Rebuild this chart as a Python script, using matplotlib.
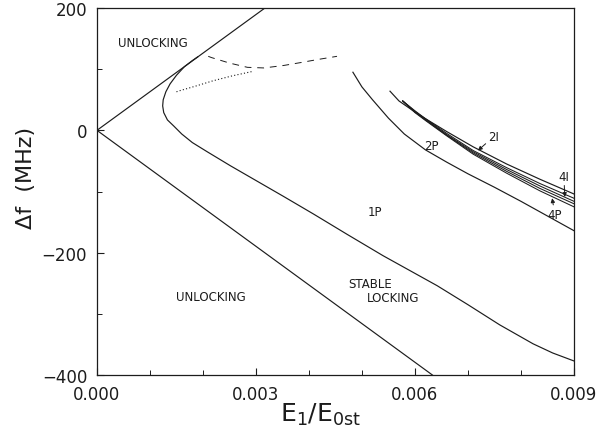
import matplotlib
matplotlib.use("Agg")
import matplotlib.pyplot as plt
from matplotlib.ticker import MultipleLocator, FixedLocator, FuncFormatter

# ---------------- data ----------------
upper_line_x = [0.0, 0.00317]
upper_line_y = [0.0, 200.0]
lower_line_x = [0.0, 0.00633]
lower_line_y = [0.0, -400.0]

# 1P boundary (C-shaped curve)
c_x = [0.00190, 0.00180, 0.00165, 0.00150, 0.00138, 0.00130, 0.00125, 0.00124,
       0.00126, 0.00133, 0.00145, 0.00160, 0.00180, 0.00208, 0.00252, 0.00302,
       0.00352, 0.00409, 0.00472, 0.00540, 0.00642, 0.00700, 0.00760, 0.00823,
       0.00860, 0.00900]
c_y = [120, 114, 104, 90, 76, 63, 50, 40, 29, 17, 7, -6, -20, -35, -58, -83,
       -108, -137, -170, -205, -254, -285, -318, -349, -364, -377]

# dashed curve
dash_x = [0.00210, 0.00216, 0.00250, 0.00284, 0.00315, 0.00352, 0.00386, 0.00418, 0.00453]
dash_y = [121, 119, 110, 103, 102, 106, 111, 116, 121]

# dotted curve
dot_x = [0.00150, 0.00157, 0.00185, 0.00219, 0.00255, 0.00292]
dot_y = [63, 65, 72, 81, 89, 96]

# 2P curve
p2_x = [0.00483, 0.00500, 0.00520, 0.00550, 0.00580, 0.00620, 0.00660, 0.00700,
        0.00750, 0.00800, 0.00850, 0.00900]
p2_y = [95, 71, 50, 20, -6, -32, -52, -71, -93, -116, -140, -164]

# 2I curve (top of the group)
i2_x = [0.00553, 0.00570, 0.00600, 0.00620, 0.00660, 0.00710, 0.00773, 0.00836, 0.00900]
i2_y = [64, 48, 30, 19, -2, -27, -55, -80, -104]

# bundle of higher-order curves
bundle_x = [0.00577, 0.00600, 0.00620, 0.00660, 0.00710, 0.00773, 0.00836, 0.00900]
bundle_y1 = [48, 32, 19, -5, -33, -61, -87, -111]
bundle_y2 = [48, 31, 18, -7, -35, -64, -91, -116]
bundle_y3 = [48, 30, 17, -8, -37, -67, -95, -120]
bundle_y4 = [48, 29, 16, -9, -39, -70, -99, -125]

x_ticks = [0.000, 0.003, 0.006, 0.009]
y_ticks = [-400, -200, 0, 200]

# ---------------- figure ----------------
plt.rcParams['font.family'] = ['DejaVu Sans']
fig = plt.figure(figsize=(6.06, 4.39), dpi=100)
ax = fig.add_axes([0.160, 0.1435, 0.787, 0.836])

lc = '#1c1c1c'
lw = 0.85
ax.plot(upper_line_x, upper_line_y, color=lc, lw=lw)
ax.plot(lower_line_x, lower_line_y, color=lc, lw=lw)
ax.plot(c_x, c_y, color=lc, lw=lw)
ax.plot(dash_x, dash_y, color=lc, lw=0.7, dashes=(7, 6))
ax.plot(dot_x, dot_y, color=lc, lw=0.8, dashes=(1, 2))
ax.plot(p2_x, p2_y, color=lc, lw=lw)
ax.plot(i2_x, i2_y, color=lc, lw=lw)
for by in (bundle_y1, bundle_y2, bundle_y3, bundle_y4):
    ax.plot(bundle_x, by, color=lc, lw=0.75)

ax.set_xlim(0, 0.009)
ax.set_ylim(-400, 200)

ax.xaxis.set_major_locator(FixedLocator(x_ticks))
ax.xaxis.set_minor_locator(MultipleLocator(0.001))
ax.yaxis.set_major_locator(FixedLocator(y_ticks))
ax.yaxis.set_minor_locator(MultipleLocator(100))
ax.xaxis.set_major_formatter(FuncFormatter(lambda v, p: f"{v:.3f}"))
ax.yaxis.set_major_formatter(FuncFormatter(lambda v, p: f"{int(round(v))}".replace('-', '\u2212')))

ax.tick_params(which='major', direction='in', length=5, width=0.8, labelsize=12,
               pad=7, colors=lc, top=False, right=False)
ax.tick_params(which='minor', direction='in', length=3.5, width=0.7, top=False, right=False, colors=lc)
for s in ax.spines.values():
    s.set_linewidth(0.9)
    s.set_color(lc)

ax.set_xlabel(r'$\mathregular{E_1/E_{0st}}$', fontsize=18, color=lc)
ax.xaxis.set_label_coords(0.468, -0.070)
ax.set_ylabel('\u0394f  (MHz)', fontsize=16, color=lc)
ax.yaxis.set_label_coords(-0.128, 0.54)

tc = '#1c1c1c'
fs = 8.5
ax.text(0.00106, 143, 'UNLOCKING', fontsize=fs, color=tc, ha='center', va='center')
ax.text(0.00215, -272, 'UNLOCKING', fontsize=fs, color=tc, ha='center', va='center')
ax.text(0.00474, -251, 'STABLE', fontsize=fs, color=tc, ha='left', va='center')
ax.text(0.00509, -274, 'LOCKING', fontsize=fs, color=tc, ha='left', va='center')
ax.text(0.00525, -133, '1P', fontsize=fs, color=tc, ha='center', va='center')
ax.text(0.00632, -24, '2P', fontsize=fs, color=tc, ha='center', va='center')

ap = dict(arrowstyle='-|>', color=tc, lw=0.7, mutation_scale=6, shrinkA=0, shrinkB=0)
ax.annotate('2I', xy=(0.00719, -33), xytext=(0.00749, -10), fontsize=fs, color=tc,
            ha='center', va='center', arrowprops=ap)
ax.annotate('4I', xy=(0.00883, -109), xytext=(0.00881, -75), fontsize=fs, color=tc,
            ha='center', va='center', arrowprops=ap)
ax.annotate('4P', xy=(0.00859, -111), xytext=(0.00864, -137), fontsize=fs, color=tc,
            ha='center', va='center', arrowprops=ap)

fig.savefig('out.png', dpi=100)
